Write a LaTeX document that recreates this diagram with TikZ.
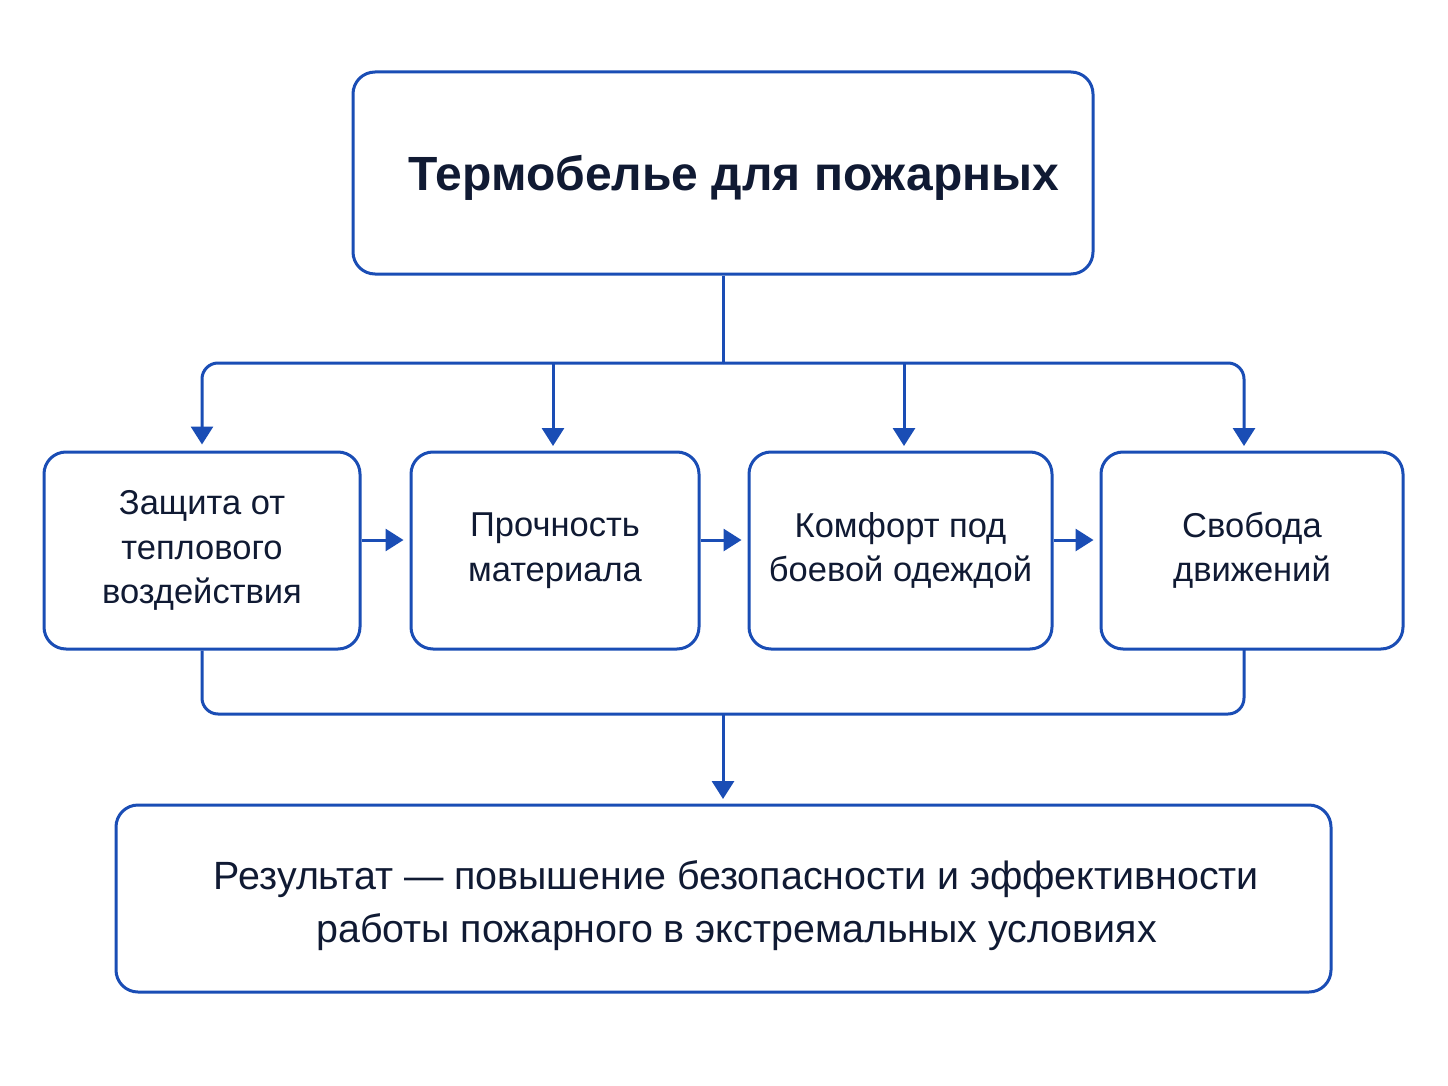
\documentclass[tikz,border=0pt]{standalone}
\usepackage{fontspec}
\setmainfont{Liberation Sans}
\usetikzlibrary{arrows.meta}
\definecolor{bl}{HTML}{1A4DB5}
\definecolor{ink}{HTML}{101A33}
\tikzset{
  box/.style={draw=bl, line width=3pt, rounded corners=22pt, fill=white, text=ink, align=center, inner sep=0pt},
  conn/.style={draw=bl, line width=3pt},
  arr/.style={conn, -{Triangle[length=18pt,width=22pt]}, shorten >=6pt},
  midtext/.style={font=\fontsize{34.5}{44.5}\selectfont},
}
\begin{document}
\begin{tikzpicture}[x=1pt,y=-1pt]
\useasboundingbox[fill=white] (0,0) rectangle (1448,1086);
\node[box, minimum width=740pt, minimum height=202pt, font=\fontsize{48}{50}\selectfont\bfseries] (top) at (723,173) {\hspace*{22pt}\raisebox{-5pt}[\height][\depth]{Термобелье для пожарных}};
\node[box, midtext, minimum width=316pt, minimum height=197pt] (b1) at (202,550.5) {Защита от\\теплового\\воздействия};
\node[box, midtext, minimum width=288pt, minimum height=197pt] (b2) at (555,550.5) {Прочность\\материала};
\node[box, midtext, minimum width=303pt, minimum height=197pt] (b3) at (900.5,550.5) {Комфорт под\\боевой одеждой};
\node[box, midtext, minimum width=302pt, minimum height=197pt] (b4) at (1252,550.5) {Свобода\\движений};
\node[box, minimum width=1215pt, minimum height=187pt, font=\fontsize{39.4}{53}\selectfont] (res) at (723.5,898.5) {\raisebox{-7pt}[\height][\depth]{\begin{tabular}{@{}c@{}}\hspace*{26pt}Результат — повышение безопасности и эффективности\\[0pt]\hspace*{26pt}работы пожарного в экстремальных условиях\end{tabular}}};
\coordinate (busT) at (723,363);
\coordinate (busB) at (723,714);
\draw[conn] (top.south) -- (busT);
\draw[arr, rounded corners=16pt] (busT) -| (b1.north);
\draw[arr, rounded corners=16pt] (busT) -| (1244,452);
\draw[arr] (553,363) -- (553,452);
\draw[arr] (904,363) -- (904,452);
\draw[arr] (b1.east |- 0,540) -- (b2.west |- 0,540);
\draw[arr] (b2.east |- 0,540) -- (b3.west |- 0,540);
\draw[arr] (b3.east |- 0,540) -- (b4.west |- 0,540);
\draw[conn, rounded corners=16pt] (b1.south) |- (busB) -| (1244,649);
\draw[arr] (busB) -- (723,805);
\end{tikzpicture}
\end{document}
